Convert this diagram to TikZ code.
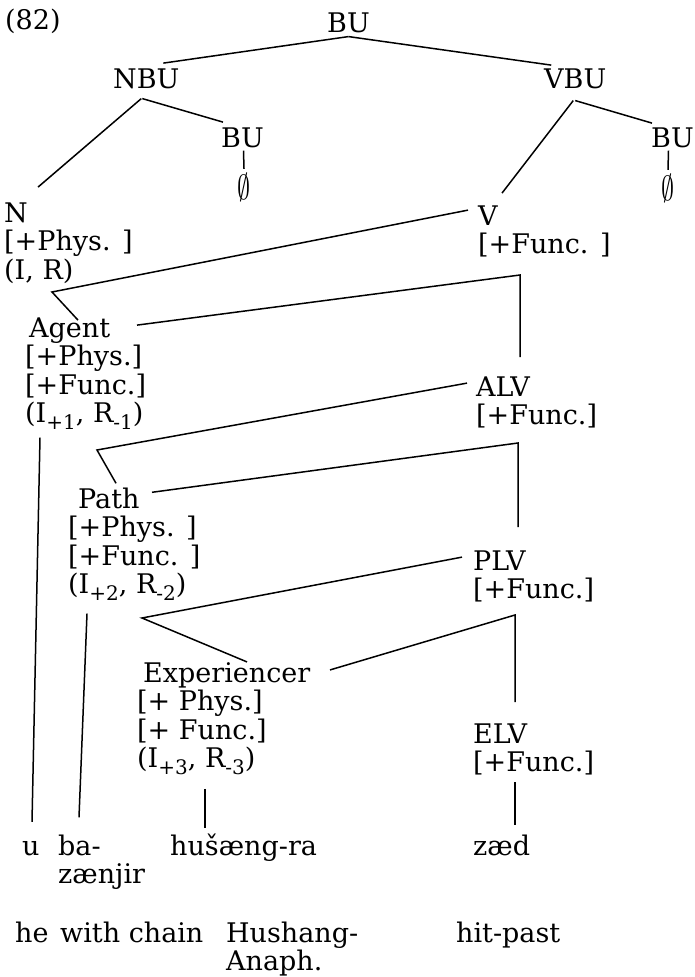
\documentclass[tikz,border=0pt]{standalone}
\usepackage{fontspec}
\setmainfont{DejaVu Serif}
\usepackage{graphicx}
\usepackage{tikz}

% stacked feature lines, baseline of the first line
\newcommand\featstack[1]{\vtop{\baselineskip=28.5pt\lineskiplimit=-30pt\halign{##\hfil\cr#1\crcr}}}
\newcommand\subidx[1]{\raisebox{-7pt}{\fontsize{20}{20}\selectfont#1}}
\newcommand\nullsign{\scalebox{1.05}[1.4]{$\emptyset$}}

\begin{document}
\begin{tikzpicture}[x=1pt,y=-1pt,
  every node/.style={font=\fontsize{27}{28.5}\selectfont,inner sep=0pt,anchor=base west},
  tie/.style={line width=1.5pt}]
\useasboundingbox (0,0) rectangle (694,977);

% top of the tree
\node (ex82) at (5,29) {(82)};
\node (BUtop) at (327,32) {BU};
\node (NBU) at (113,88) {NBU};
\node (VBU) at (544,88) {VBU};
\node (BUn) at (221,147) {BU};
\node (BUv) at (651,147) {BU};
\node[anchor=center] (nulln) at (244,187) {\nullsign};
\node[anchor=center] (nullv) at (668,188) {\nullsign};

% categories with features
\node (N) at (4,222) {\featstack{N\cr [+Phys. ]\cr (I, R)}};
\node (V) at (478,225) {\featstack{V\cr [+Func. ]}};
\node (Agent) at (25,337) {\featstack{\hspace{4pt}Agent\cr [+Phys.]\cr [+Func.]\cr (I\subidx{+1},  R\subidx{-1})}};
\node (ALV) at (476,396) {\featstack{ALV\cr [+Func.]}};
\node (Path) at (68,508) {\featstack{\hspace{10pt}Path\cr [+Phys. ]\cr [+Func. ]\cr (I\subidx{+2}, R\subidx{-2})}};
\node (PLV) at (473,570) {\featstack{PLV\cr [+Func.]}};
\node (Exper) at (137,682) {\featstack{\hspace{6pt}Experiencer\cr [+ Phys.]\cr [+ Func.]\cr (I\subidx{+3}, R\subidx{-3})}};
\node (ELV) at (473,743) {\featstack{ELV\cr [+Func.]}};

% words and glosses
\node (u) at (22,855) {u};
\node (ba) at (58,855) {\featstack{ba-\cr zænjir}};
\node (husaeng) at (170,855) {hušæng-ra};
\node (zaed) at (473,855) {zæd};
\node (glHe) at (15,942) {he};
\node (glChain) at (60,942) {with chain};
\node (glHush) at (226,942) {\featstack{Hushang-\cr Anaph.}};
\node (glHit) at (456,942) {hit-past};

% bends
\coordinate (jA) at (52,292);
\coordinate (kA) at (520,275);
\coordinate (jP) at (97,450);
\coordinate (kP) at (518,443);
\coordinate (jE) at (142,618);
\coordinate (kE) at (515,615);

\draw[tie] ([shift={(0,4)}]BUtop.south) -- ([shift={(17,-5)}]NBU.north);
\draw[tie] ([shift={(0,4)}]BUtop.south) -- ([shift={(-24,-3)}]VBU.north);
\draw[tie] ([shift={(-5,10)}]NBU.south) -- ([shift={(34,-15)}]N.north west);
\draw[tie] ([shift={(-4,10)}]NBU.south) -- ([shift={(2,-5)}]BUn.north west);
\draw[tie] ([shift={(1,3)}]BUn.south) -- ([shift={(0,-4)}]nulln.north);
\draw[tie] ([shift={(-2,12)}]VBU.south) -- ([shift={(24,-12)}]V.north west);
\draw[tie] ([shift={(0,12)}]VBU.south) -- ([shift={(1,-4)}]BUv.north west);
\draw[tie] ([shift={(-4,3)}]BUv.south) -- ([shift={(0,-4)}]nullv.north);

\draw[tie] ([shift={(-10,5)}]V.north west) -- (jA) -- ([shift={(53,3)}]Agent.north west);
\draw[tie] ([shift={(112,8)}]Agent.north west) -- (kA) -- ([shift={(44,-19)}]ALV.north west);
\draw[tie] ([shift={(-9,7)}]ALV.north west) -- (jP) -- ([shift={(48,-4)}]Path.north west);
\draw[tie] ([shift={(84,5)}]Path.north west) -- (kP) -- ([shift={(45,-23)}]PLV.north west);
\draw[tie] ([shift={(-11,7)}]PLV.north west) -- (jE) -- ([shift={(110,0)}]Exper.north west);
\draw[tie] ([shift={(193,8)}]Exper.north west) -- (kE) -- ([shift={(42,-21)}]ELV.north west);

\draw[tie] ([shift={(15,8)}]Agent.south west) -- ([shift={(10,-19)}]u.north west);
\draw[tie] ([shift={(19,13)}]Path.south west) -- ([shift={(21,-17)}]ba.north west);
\draw[tie] ([shift={(68,14)}]Exper.south west) -- ([shift={(35,-5)}]husaeng.north west);
\draw[tie] ([shift={(42,7)}]ELV.south west) -- ([shift={(42,-9)}]zaed.north west);
\end{tikzpicture}
\end{document}
